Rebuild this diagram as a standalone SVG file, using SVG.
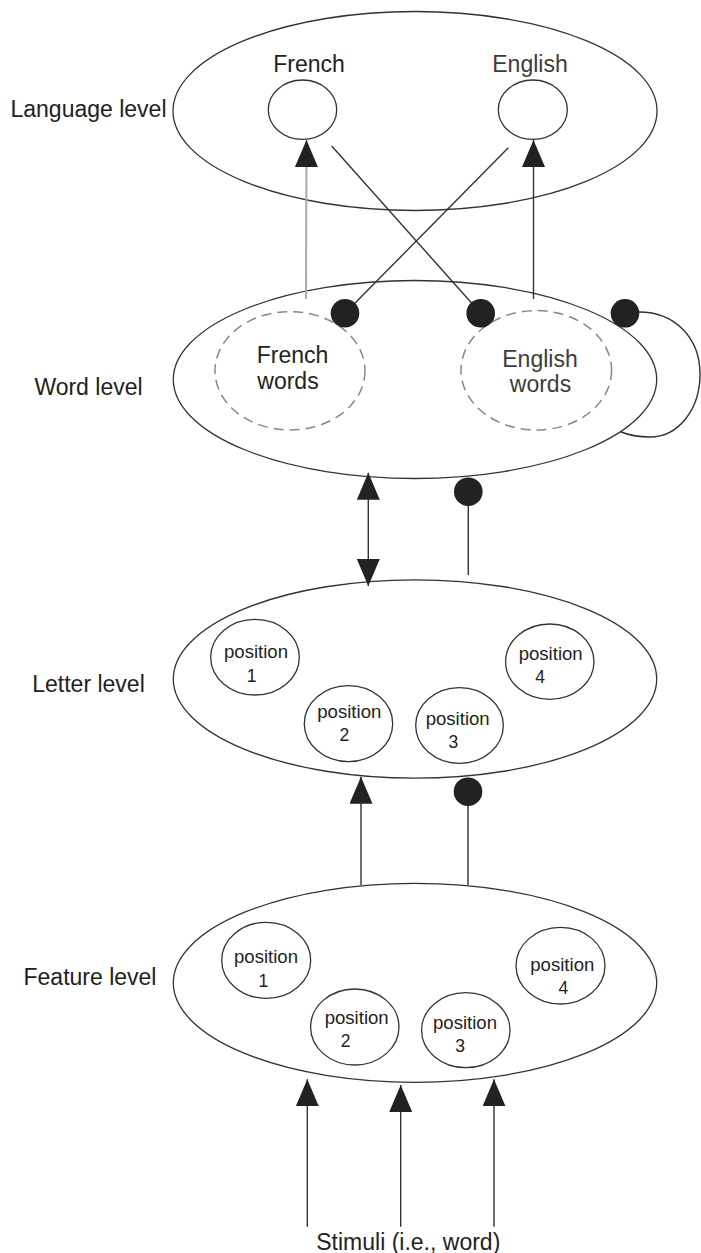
<svg xmlns="http://www.w3.org/2000/svg" width="701" height="1253" viewBox="0 0 701 1253">
<style>
  text { font-family: "Liberation Sans", Arial, sans-serif; fill: #222; }
  .lvl { font-size: 23px; text-anchor: middle; }
  .big { font-size: 23px; text-anchor: middle; }
  .gray { fill: #3c3c3c; }
  .pos { font-size: 17.5px; text-anchor: middle; }
  .layer { fill: none; stroke: #333; stroke-width: 1.3; }
  .unit { fill: #fff; stroke: #333; stroke-width: 1.3; }
  .dash { fill: none; stroke: #888; stroke-width: 1.5; stroke-dasharray: 10 6; }
  .edge { fill: none; stroke: #333; stroke-width: 1.4; }
  .light { fill: none; stroke: #aaa; stroke-width: 2; }
</style>
<defs>
  <marker id="arrow" viewBox="0 0 27 23" refX="27" refY="11.5" markerWidth="27" markerHeight="23" markerUnits="userSpaceOnUse" orient="auto-start-reverse">
    <path d="M0,0 L27,11.5 L0,23 Z" fill="#222"/>
  </marker>
  <marker id="dot" viewBox="-15 -15 30 30" refX="0" refY="0" markerWidth="30" markerHeight="30" markerUnits="userSpaceOnUse" orient="auto">
    <circle cx="0" cy="0" r="14.3" fill="#222"/>
  </marker>
</defs>
<rect width="701" height="1253" fill="#fff"/>

<g id="language-level">
  <ellipse class="layer" cx="415" cy="111" rx="242" ry="99.5"/>
  <text class="lvl" x="88.5" y="116.7">Language level</text>
  <g id="lang-french">
    <ellipse class="unit" cx="302.5" cy="109.7" rx="34.2" ry="29.7"/>
    <text class="big" x="309" y="71.7">French</text>
  </g>
  <g id="lang-english">
    <ellipse class="unit" cx="532.8" cy="109.7" rx="34.5" ry="29.7"/>
    <text class="big gray" x="530" y="71.7">English</text>
  </g>
</g>

<g id="word-level">
  <ellipse class="layer" cx="415" cy="379.5" rx="241.7" ry="99"/>
  <text class="lvl" x="88.5" y="395">Word level</text>
  <g id="french-words">
    <ellipse class="dash" cx="290" cy="370.8" rx="75" ry="59.2"/>
    <text class="big" x="292.5" y="363.3">French</text>
    <text class="big" x="288" y="389.3">words</text>
  </g>
  <g id="english-words">
    <ellipse class="dash" cx="536.3" cy="370.3" rx="75.3" ry="59.7"/>
    <text class="big gray" x="540" y="366.5">English</text>
    <text class="big gray" x="540.5" y="391.5">words</text>
  </g>
</g>

<g id="letter-level">
  <ellipse class="layer" cx="415" cy="679" rx="241.7" ry="99.2"/>
  <text class="lvl" x="88.5" y="691.7">Letter level</text>
  <g id="letter-pos1">
    <ellipse class="unit" cx="255" cy="657.2" rx="44.3" ry="37.8"/>
    <text class="pos" x="256" y="658.3" textLength="64" lengthAdjust="spacingAndGlyphs">position</text>
    <text class="pos" x="251.7" y="681.7">1</text>
  </g>
  <g id="letter-pos2">
    <ellipse class="unit" cx="348.5" cy="723.7" rx="44.2" ry="38"/>
    <text class="pos" x="349.3" y="717.7" textLength="64" lengthAdjust="spacingAndGlyphs">position</text>
    <text class="pos" x="344.3" y="740.7">2</text>
  </g>
  <g id="letter-pos3">
    <ellipse class="unit" cx="459.5" cy="725.5" rx="43.8" ry="37.8"/>
    <text class="pos" x="457.7" y="725" textLength="64" lengthAdjust="spacingAndGlyphs">position</text>
    <text class="pos" x="453.3" y="748.3">3</text>
  </g>
  <g id="letter-pos4">
    <ellipse class="unit" cx="549.8" cy="661.7" rx="44.2" ry="37.7"/>
    <text class="pos" x="550.7" y="660" textLength="64" lengthAdjust="spacingAndGlyphs">position</text>
    <text class="pos" x="540" y="683.3">4</text>
  </g>
</g>

<g id="feature-level">
  <ellipse class="layer" cx="415" cy="982.8" rx="241.7" ry="99.5"/>
  <text class="lvl" x="90" y="985">Feature level</text>
  <g id="feature-pos1">
    <ellipse class="unit" cx="266.2" cy="960.3" rx="44.5" ry="38"/>
    <text class="pos" x="266" y="963.3" textLength="64" lengthAdjust="spacingAndGlyphs">position</text>
    <text class="pos" x="263.3" y="986.7">1</text>
  </g>
  <g id="feature-pos2">
    <ellipse class="unit" cx="354.8" cy="1027" rx="44.2" ry="38"/>
    <text class="pos" x="356.7" y="1024" textLength="64" lengthAdjust="spacingAndGlyphs">position</text>
    <text class="pos" x="345.7" y="1047.3">2</text>
  </g>
  <g id="feature-pos3">
    <ellipse class="unit" cx="465.8" cy="1030.2" rx="44.2" ry="37.5"/>
    <text class="pos" x="465" y="1029.3" textLength="64" lengthAdjust="spacingAndGlyphs">position</text>
    <text class="pos" x="460" y="1051.7">3</text>
  </g>
  <g id="feature-pos4">
    <ellipse class="unit" cx="560.5" cy="965.7" rx="44.5" ry="38.3"/>
    <text class="pos" x="562.3" y="971" textLength="64" lengthAdjust="spacingAndGlyphs">position</text>
    <text class="pos" x="563.3" y="994">4</text>
  </g>
</g>

<g id="stimuli">
  <text class="big" x="408.3" y="1250">Stimuli (i.e., word)</text>
</g>

<g id="connectors">
  <line class="light" x1="306" y1="299" x2="306.5" y2="140" marker-end="url(#arrow)"/>
  <line class="edge" x1="533.5" y1="299" x2="533.5" y2="140" marker-end="url(#arrow)"/>
  <line class="edge" x1="331.7" y1="146" x2="480.7" y2="313.3" marker-end="url(#dot)"/>
  <line class="edge" x1="508.3" y1="147.7" x2="345" y2="313.3" marker-end="url(#dot)"/>
  <path class="edge" d="M620,431.5 C628,435 638,437 650,437 C678,437 700,410 700,374 C700,338 675,312 639,312"/>
  <circle cx="625" cy="313.3" r="14.3" fill="#222"/>
  <line class="edge" x1="368.3" y1="472.7" x2="368.3" y2="586" marker-start="url(#arrow)" marker-end="url(#arrow)"/>
  <line class="edge" x1="468.3" y1="575" x2="468.3" y2="491.7" marker-end="url(#dot)"/>
  <line class="edge" x1="361" y1="885" x2="361" y2="776.7" marker-end="url(#arrow)"/>
  <line class="edge" x1="468" y1="885" x2="468" y2="791.7" marker-end="url(#dot)"/>
  <line class="edge" x1="307.3" y1="1226.7" x2="307.3" y2="1079.3" marker-end="url(#arrow)"/>
  <line class="edge" x1="400.7" y1="1226.7" x2="400.7" y2="1085" marker-end="url(#arrow)"/>
  <line class="edge" x1="494" y1="1226.7" x2="494" y2="1079.3" marker-end="url(#arrow)"/>
</g>
</svg>
